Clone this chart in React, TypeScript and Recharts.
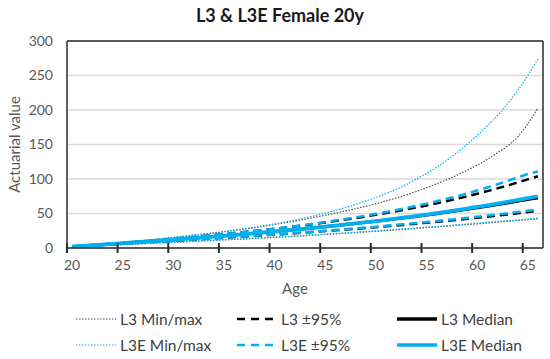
import React from 'react';
import {
  LineChart,
  Line,
  XAxis,
  YAxis,
  CartesianGrid,
  ReferenceLine,
  Label
} from 'recharts';

// ages on the category axis
const ages = [
  20, 21, 22, 23, 24, 25, 26, 27, 28, 29, 30, 31, 32, 33, 34, 35, 36, 37, 38, 39,
  40, 41, 42, 43, 44, 45, 46, 47, 48, 49, 50, 51, 52, 53, 54, 55, 56, 57, 58, 59,
  60, 61, 62, 63, 64, 65, 66
];
const tickAges = [20, 25, 30, 35, 40, 45, 50, 55, 60, 65];
const yTicks = [0, 50, 100, 150, 200, 250, 300];

// L3
const l3Max = [
  2, 3.2, 4.4, 5.6, 6.9, 8.2, 9.5, 10.9, 12.3, 13.8, 15.3, 16.8, 18.4, 20, 21.7, 23.5, 25.4, 27.4, 29.5, 31.7,
  34, 36.5, 39, 41.7, 44.5, 47.5, 50.5, 53.7, 57, 60.5, 64.2, 68.2, 72.4, 77, 82, 87.3, 93, 99, 105.5, 112.5,
  120, 128.5, 138, 148, 161, 180, 203
];
const l3Min = [
  2, 2.6, 3.2, 3.8, 4.4, 5, 5.6, 6.2, 6.9, 7.6, 8.3, 9, 9.7, 10.4, 11.1, 11.8, 12.5, 13.2, 13.9, 14.6,
  15.4, 16.2, 17, 17.8, 18.7, 19.6, 20.5, 21.4, 22.3, 23.3, 24.3, 25.3, 26.3, 27.3, 28.4, 29.5, 30.6, 31.7, 32.8, 33.9,
  35, 36.2, 37.4, 38.6, 39.8, 41, 42.2
];
const l3Upper = [
  2, 3, 4, 5, 6.2, 7.4, 8.6, 9.8, 11, 12.2, 13.4, 14.7, 16, 17.3, 18.7, 20.1, 21.6, 23.1, 24.7, 26.2,
  27.8, 29.5, 31.3, 33.1, 35, 37, 39, 41.2, 43.4, 45.7, 48.1, 50.6, 53.2, 55.9, 58.7, 61.6, 64.7, 67.9, 71.3, 74.8,
  78.5, 82.4, 86.4, 90.6, 95, 99.5, 104
];
const l3Lower = [
  2, 2.8, 3.6, 4.4, 5.2, 6, 6.9, 7.8, 8.7, 9.5, 10.4, 11.3, 12.2, 13.1, 14, 14.9, 15.8, 16.7, 17.6, 18.5,
  19.4, 20.4, 21.4, 22.4, 23.4, 24.5, 25.6, 26.7, 27.8, 29, 30.2, 31.4, 32.6, 33.9, 35.2, 36.6, 38, 39.4, 40.8, 42.3,
  43.8, 45.4, 47, 48.6, 50.3, 52, 54
];
const l3Median = [
  2, 3, 4, 5, 6, 7, 8, 9, 10, 11, 12.1, 13.2, 14.3, 15.4, 16.5, 17.7, 18.9, 20.1, 21.3, 22.6,
  23.9, 25.2, 26.6, 28, 29.4, 30.9, 32.4, 34, 35.6, 37.2, 38.8, 40.5, 42.2, 44, 45.8, 47.7, 49.7, 51.7, 53.8, 56,
  58.2, 60.5, 62.9, 65.3, 67.8, 70.3, 72.5
];

// L3E
const l3eMax = [
  2, 3.2, 4.4, 5.6, 6.9, 8.2, 9.5, 10.9, 12.3, 13.8, 15.3, 16.9, 18.5, 20.2, 22, 23.9, 25.9, 28, 30.2, 32.5,
  35, 37.7, 40.6, 43.7, 47, 50.6, 54.5, 58.7, 63.2, 68, 73, 79, 85, 92, 100, 108, 117, 127, 138, 150,
  163, 177, 192, 209, 228, 250, 274
];
const l3eMin = [
  2, 2.6, 3.2, 3.8, 4.4, 5, 5.6, 6.3, 7, 7.7, 8.4, 9.1, 9.8, 10.5, 11.2, 11.9, 12.6, 13.3, 14.1, 14.9,
  15.7, 16.5, 17.3, 18.2, 19.1, 20, 20.9, 21.9, 22.9, 23.9, 24.9, 25.9, 26.9, 28, 29.1, 30.2, 31.3, 32.4, 33.6, 34.8,
  36, 37.2, 38.4, 39.6, 40.8, 42, 43.3
];
const l3eUpper = [
  2, 3, 4, 5, 6.2, 7.4, 8.6, 9.8, 11, 12.2, 13.4, 14.7, 16, 17.3, 18.7, 20.1, 21.6, 23.1, 24.7, 26.3,
  28, 29.8, 31.6, 33.5, 35.5, 37.5, 39.7, 42, 44.4, 46.9, 49.5, 52.2, 55, 58, 61.1, 64.3, 67.7, 71.3, 75.1, 79.1,
  83.3, 87.7, 92.3, 97.1, 102.1, 107.2, 111
];
const l3eLower = [
  2, 2.8, 3.6, 4.4, 5.2, 6, 6.9, 7.8, 8.7, 9.6, 10.5, 11.4, 12.3, 13.2, 14.1, 15, 15.9, 16.8, 17.7, 18.6,
  19.6, 20.6, 21.6, 22.7, 23.8, 24.9, 26, 27.2, 28.4, 29.6, 30.9, 32.2, 33.5, 34.8, 36.2, 37.6, 39.1, 40.6, 42.1, 43.7,
  45.3, 47, 48.7, 50.4, 52.2, 54, 56
];
const l3eMedian = [
  2, 3, 4, 5, 6, 7, 8, 9, 10, 11, 12.1, 13.2, 14.3, 15.4, 16.5, 17.7, 18.9, 20.1, 21.3, 22.6,
  23.9, 25.2, 26.6, 28, 29.5, 31, 32.5, 34.1, 35.7, 37.4, 39.1, 40.9, 42.7, 44.6, 46.5, 48.5, 50.6, 52.7, 54.9, 57.2,
  59.5, 61.9, 64.4, 67, 69.7, 72.4, 75
];

const data = ages.map((age, i) => ({
  age,
  l3Max: l3Max[i],
  l3Min: l3Min[i],
  l3Upper: l3Upper[i],
  l3Lower: l3Lower[i],
  l3Median: l3Median[i],
  l3eMax: l3eMax[i],
  l3eMin: l3eMin[i],
  l3eUpper: l3eUpper[i],
  l3eLower: l3eLower[i],
  l3eMedian: l3eMedian[i]
}));

const BLUE = '#00b0f0';
const GREY = '#505050';
const AXIS = '#2b2b2b';
const FONT = 'Lato, "Open Sans", sans-serif';

// L3 drawn first so the L3E lines sit on top
const series = [
  { key: 'l3Max', color: GREY, width: 1.2, dash: '1.5 1.5' },
  { key: 'l3Min', color: GREY, width: 1.2, dash: '1.5 1.5' },
  { key: 'l3Upper', color: '#000', width: 2.5, dash: '8 5' },
  { key: 'l3Lower', color: '#000', width: 2.5, dash: '8 5' },
  { key: 'l3Median', color: '#000', width: 3, dash: undefined },
  { key: 'l3eMax', color: BLUE, width: 1.2, dash: '1.5 1.5' },
  { key: 'l3eMin', color: BLUE, width: 1.2, dash: '1.5 1.5' },
  { key: 'l3eUpper', color: BLUE, width: 2.5, dash: '8 5' },
  { key: 'l3eLower', color: BLUE, width: 2.5, dash: '8 5' },
  { key: 'l3eMedian', color: BLUE, width: 3.8, dash: undefined }
];

const legendItems = [
  { label: 'L3 Min/max', color: GREY, width: 1.2, dash: '1.5 1.5' },
  { label: 'L3 ±95%', color: '#000', width: 2.5, dash: '8 6' },
  { label: 'L3 Median', color: '#000', width: 3.5, dash: undefined },
  { label: 'L3E Min/max', color: BLUE, width: 1.2, dash: '1.5 1.5' },
  { label: 'L3E ±95%', color: BLUE, width: 2.5, dash: '8 6' },
  { label: 'L3E Median', color: BLUE, width: 3.5, dash: undefined }
];

// tick marks sit between categories and cross the axis (207px per 300 units)
const TICK_HALF = (5 * 300) / 207;

const legendCols = [76, 237, 397];
const legendRows = [319, 345];

const App: React.FC = () => {
  return (
    <div style={{ position: 'absolute', left: 0, top: 0, width: 550, height: 359, background: '#fff', fontFamily: FONT }}>
      <div
        style={{
          position: 'absolute',
          left: 0,
          top: 4,
          width: 560,
          textAlign: 'center',
          fontSize: 18,
          fontWeight: 700,
          color: '#1a1a1a'
        }}
      >
        L3 &amp; L3E Female 20y
      </div>

      <LineChart width={550} height={359} data={data} margin={{ top: 41, right: 7, left: 0, bottom: 61 }}>
        <CartesianGrid horizontal vertical={false} stroke="#d9d9d9" strokeWidth={1.5} />
        <XAxis
          dataKey="age"
          type="category"
          scale="band"
          interval={4}
          height={50}
          tickSize={0}
          tickMargin={12}
          tickLine={false}
          axisLine={{ stroke: AXIS, strokeWidth: 1.5 }}
          tick={{ fill: '#595959', fontSize: 14, fontFamily: FONT }}
        >
          <Label value="Age" position="insideBottom" offset={4} dx={-10} fill="#595959" fontSize={15} fontFamily={FONT} />
        </XAxis>
        <YAxis
          domain={[0, 300]}
          ticks={yTicks}
          width={67}
          tickSize={0}
          tickMargin={14}
          tickLine={false}
          axisLine={{ stroke: AXIS, strokeWidth: 1.5 }}
          tick={{ fill: '#595959', fontSize: 14, fontFamily: FONT }}
        >
          <Label value="Actuarial value" angle={-90} position="insideLeft" offset={15} style={{ textAnchor: 'middle' }} fill="#595959" fontSize={15} fontFamily={FONT} />
        </YAxis>
        {/* plot frame: top and right edges */}
        <ReferenceLine y={300} stroke={AXIS} strokeWidth={1.5} />
        <ReferenceLine x={66} position="end" stroke={AXIS} strokeWidth={1.5} />
        {series.map((s) => (
          <Line
            key={s.key}
            type="monotone"
            dataKey={s.key}
            stroke={s.color}
            strokeWidth={s.width}
            strokeDasharray={s.dash}
            dot={false}
            activeDot={false}
            isAnimationActive={false}
          />
        ))}
        {tickAges.map((a) => (
          <ReferenceLine
            key={a}
            position="start"
            ifOverflow="visible"
            stroke={AXIS}
            strokeWidth={2}
            segment={[{ x: a, y: -TICK_HALF }, { x: a, y: TICK_HALF }]}
          />
        ))}
      </LineChart>

      {legendItems.map((item, i) => {
        const left = legendCols[i % 3];
        const top = legendRows[Math.floor(i / 3)];
        return (
          <div
            key={item.label}
            style={{ position: 'absolute', left, top: top - 10, height: 20, display: 'flex', alignItems: 'center' }}
          >
            <svg width={40} height={10} style={{ marginRight: 4 }}>
              <line x1={0} x2={40} y1={5} y2={5} stroke={item.color} strokeWidth={item.width} strokeDasharray={item.dash} />
            </svg>
            <span style={{ fontSize: 15.5, color: '#404040', whiteSpace: 'nowrap' }}>{item.label}</span>
          </div>
        );
      })}
    </div>
  );
};

export default App;
